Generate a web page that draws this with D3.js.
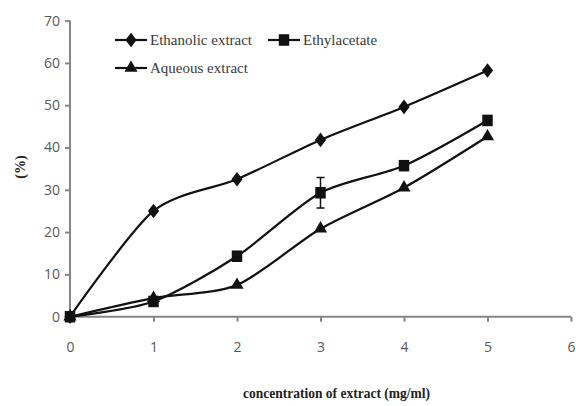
<!DOCTYPE html>
<html>
<head>
<meta charset="utf-8">
<script src="https://cdn.jsdelivr.net/npm/d3@7"></script>
<style>
body { margin: 0; background: #fff; }
</style>
</head>
<body>
<div id="grafica"></div>
<script>
var conc = [0, 1, 2, 3, 4, 5];
var etanol = [0, 25, 32.5, 41.8, 49.6, 58.2];
var etilo = [0, 3.6, 14.3, 29.3, 35.7, 46.4];
var acuoso = [0, 4.4, 7.5, 20.8, 30.5, 42.6];
var etiloErr = [0, 0, 0, 3.6, 0, 0];
var nombres = ['Ethanolic extract', 'Ethylacetate', 'Aqueous extract'];
var xTicks = [0, 1, 2, 3, 4, 5, 6];
var yTicks = [0, 10, 20, 30, 40, 50, 60, 70];

var svg = d3.select("#grafica")
	.append('svg')
	.attr("width", 576)
	.attr("height", 406);

var x = d3.scaleLinear().domain([0, 6]).range([70, 571]);
var y = d3.scaleLinear().domain([0, 70]).range([316.7, 20.6]);
var gris = "#868686";
var textoGris = "#595959";

// ejes
var ejeY = svg.append("g")
	.attr("transform", "translate(" + x(0) + ",0)")
	.call(d3.axisLeft(y).tickValues(yTicks).tickSize(5).tickPadding(5).tickFormat(d3.format("d")));
var ejeX = svg.append("g")
	.attr("transform", "translate(0," + y(0) + ")")
	.call(d3.axisBottom(x).tickValues(xTicks).tickSize(5).tickPadding(20).tickFormat(d3.format("d")));
[ejeY, ejeX].forEach(function (g) {
	g.select(".domain").attr("stroke", gris).attr("stroke-width", 2);
	g.selectAll(".tick line").attr("stroke", gris).attr("stroke-width", 2);
	g.selectAll(".tick text")
		.attr("fill", textoGris)
		.attr("font-family", "'Open Sans', 'DejaVu Sans', sans-serif")
		.attr("font-size", "14px");
});
ejeY.select(".domain").attr("d", "M0," + y(0) + "V" + y(70));
ejeX.select(".domain").attr("d", "M" + x(0) + ",0H" + x(6));

var linea = d3.line()
	.x(function (d) { return x(d[0]); })
	.y(function (d) { return y(d[1]); })
	.curve(d3.curveCardinal.tension(0.2));

var series = [etanol, etilo, acuoso];
var formas = [d3.symbolDiamond2, d3.symbolSquare, d3.symbolTriangle];
var tamanos = [80, 110, 75];
var escalaY = [1.3, 1.1, 1];

// barra de error
conc.forEach(function (c, i) {
	if (etiloErr[i] > 0) {
		svg.append("path")
			.attr("d", "M" + (x(c) - 4) + "," + y(etilo[i] + etiloErr[i]) + "H" + (x(c) + 4) +
				"M" + x(c) + "," + y(etilo[i] + etiloErr[i]) + "V" + y(etilo[i] - etiloErr[i]) +
				"M" + (x(c) - 4) + "," + y(etilo[i] - etiloErr[i]) + "H" + (x(c) + 4))
			.attr("stroke", "#111")
			.attr("stroke-width", 1.5)
			.attr("fill", "none");
	}
});

for (var s = 0; s < series.length; s++) {
	var pts = conc.map(function (c, i) { return [c, series[s][i]]; });
	svg.append("path")
		.datum(pts)
		.attr("d", linea)
		.attr("fill", "none")
		.attr("stroke", "#111")
		.attr("stroke-width", 2.2);
	svg.selectAll(".m" + s)
		.data(pts)
		.enter()
		.append("path")
		.attr("class", "m" + s)
		.attr("d", d3.symbol().type(formas[s]).size(tamanos[s]))
		.attr("transform", function (d) {
			return "translate(" + x(d[0]) + "," + y(d[1]) + ") scale(1," + escalaY[s] + ")";
		})
		.attr("fill", "#111");
}

// leyenda
var leyenda = [[115, 40], [268, 40], [115, 68]];
for (var k = 0; k < 3; k++) {
	var lx = leyenda[k][0], ly = leyenda[k][1];
	svg.append("line")
		.attr("x1", lx).attr("x2", lx + 32)
		.attr("y1", ly).attr("y2", ly)
		.attr("stroke", "#111").attr("stroke-width", 2.2);
	svg.append("path")
		.attr("d", d3.symbol().type(formas[k]).size(tamanos[k]))
		.attr("transform", "translate(" + (lx + 16) + "," + ly + ") scale(1," + escalaY[k] + ")")
		.attr("fill", "#111");
	svg.append("text")
		.attr("x", lx + 35)
		.attr("y", ly + 5)
		.attr("font-family", "'Liberation Serif', serif")
		.attr("font-size", "15px")
		.attr("fill", "#3a3a3a")
		.text(nombres[k]);
}

// titulos de ejes
svg.append("text")
	.attr("transform", "translate(25,167) rotate(-90)")
	.attr("text-anchor", "middle")
	.attr("font-family", "'Liberation Serif', serif")
	.attr("font-weight", "bold")
	.attr("font-size", "14px")
	.attr("fill", "#222")
	.text("(%)");
svg.append("text")
	.attr("x", 243)
	.attr("y", 398)
	.attr("textLength", 187)
	.attr("lengthAdjust", "spacingAndGlyphs")
	.attr("font-family", "'Liberation Serif', serif")
	.attr("font-weight", "bold")
	.attr("font-size", "15px")
	.attr("fill", "#222")
	.text("concentration of extract (mg/ml)");
</script>
</body>
</html>
